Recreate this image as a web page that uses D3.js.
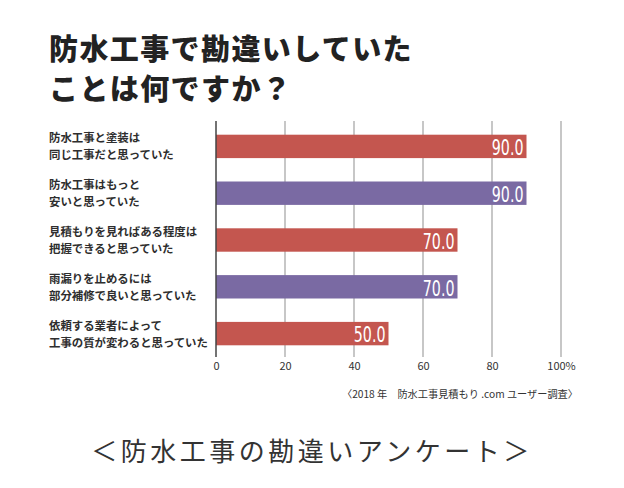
<!DOCTYPE html>
<html><head><meta charset="utf-8">
<script src="https://cdn.jsdelivr.net/npm/d3@7"></script>
<style>
html,body{margin:0;padding:0;background:#fff;}
svg{display:block;}
</style></head>
<body>
<svg id="c" width="624" height="488"></svg>
<script>
const titleLines = ["防水工事で勘違いしていた", "ことは何ですか？"];
const categories = [
  ["防水工事と塗装は", "同じ工事だと思っていた"],
  ["防水工事はもっと", "安いと思っていた"],
  ["見積もりを見ればある程度は", "把握できると思っていた"],
  ["雨漏りを止めるには", "部分補修で良いと思っていた"],
  ["依頼する業者によって", "工事の質が変わると思っていた"]
];
const values = [90.0, 90.0, 70.0, 70.0, 50.0];
const barColors = ["#c4564f", "#7a6aa3", "#c4564f", "#7a6aa3", "#c4564f"];
const tickValues = [0, 20, 40, 60, 80, 100];
const tickLabels = ["0", "20", "40", "60", "80", "100%"];
const sourceText = "〈2018 年　防水工事見積もり .com ユーザー調査〉";
const caption = "＜防水工事の勘違いアンケート＞";

const svg = d3.select("#c");
const JP = "'Noto Sans CJK JP','Noto Sans CJK SC',sans-serif";

const x = d3.scaleLinear().domain([0, 100]).range([216, 561]);
const y = d3.scaleBand().domain(d3.range(categories.length)).range([123, 357]).paddingInner(0.5).paddingOuter(0.25);

// title
svg.append("g").selectAll("text").data(titleLines).join("text")
  .attr("x", 49).attr("y", (d, i) => 60 + i * 40)
  .attr("font-family", JP).attr("font-weight", 900).attr("font-size", 29)
  .attr("letter-spacing", 1.4).attr("fill", "#222")
  .text(d => d);

// gridlines
const grid = svg.append("g");
grid.selectAll("line").data(tickValues.filter(v => v > 0)).join("line")
  .attr("x1", d => x(d)).attr("x2", d => x(d))
  .attr("y1", 121).attr("y2", 357)
  .attr("stroke", "#b4b4b4").attr("stroke-width", 1.5);

// bars
svg.append("g").selectAll("rect").data(values).join("rect")
  .attr("x", x(0)).attr("y", (d, i) => y(i))
  .attr("width", d => x(d) - x(0)).attr("height", y.bandwidth())
  .attr("fill", (d, i) => barColors[i]);

// axis line
svg.append("line").attr("x1", x(0)).attr("x2", x(0)).attr("y1", 121).attr("y2", 357)
  .attr("stroke", "#444").attr("stroke-width", 1.5);

// value labels
svg.append("g").selectAll("text").data(values).join("text")
  .attr("transform", (d, i) => `translate(${x(d) - 3},${y(i) + y.bandwidth() - 3}) scale(0.72,1)`)
  .attr("text-anchor", "end")
  .attr("font-family", "'Liberation Sans Narrow','DejaVu Sans Condensed',sans-serif")
  .attr("font-size", 22).attr("fill", "#fff")
  .text(d => d.toFixed(1));

// category labels
const cg = svg.append("g");
categories.forEach((lines, i) => {
  const cy = y(i) + y.bandwidth() / 2;
  cg.append("text").selectAll("tspan").data(lines).join("tspan")
    .attr("x", 49).attr("y", (d, j) => cy - 4 + j * 17)
    .text(d => d);
});
cg.selectAll("text")
  .attr("font-family", JP).attr("font-weight", 700).attr("font-size", 11.4)
  .attr("fill", "#2e2e2e");

// x axis tick labels
const axis = d3.axisBottom(x).tickValues(tickValues).tickSize(0).tickPadding(0)
  .tickFormat((d, i) => tickLabels[i]);
const ag = svg.append("g").attr("transform", "translate(0,363)").call(axis);
ag.select(".domain").remove();
ag.selectAll("text").attr("font-family", JP).attr("font-size", 11).attr("fill", "#333").attr("dy", "0.6em");

// source
svg.append("text").attr("x", 578).attr("y", 398).attr("text-anchor", "end")
  .attr("font-family", JP).attr("font-size", 10.2).attr("fill", "#333")
  .text(sourceText);

// caption
svg.append("text").attr("x", 312).attr("y", 461).attr("text-anchor", "middle")
  .attr("font-family", JP).attr("font-weight", 400).attr("font-size", 26)
  .attr("letter-spacing", 3.5).attr("fill", "#333")
  .text(caption);
</script>
</body></html>
